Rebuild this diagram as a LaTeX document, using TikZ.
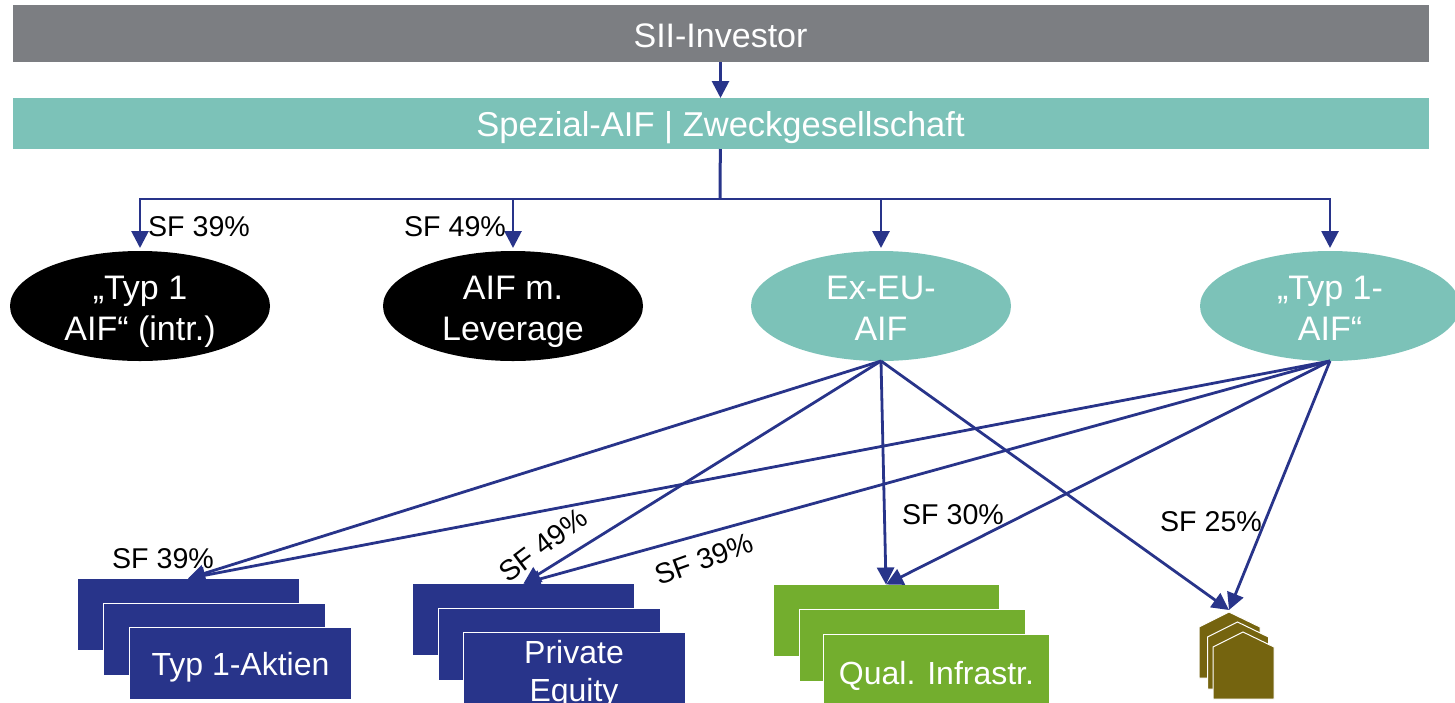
\documentclass[tikz,border=0pt]{standalone}
\usepackage{fontspec}
\setmainfont{Liberation Sans}
\usetikzlibrary{positioning, arrows.meta, shapes.geometric}
\definecolor{linkblue}{HTML}{28348A}
\definecolor{aifteal}{HTML}{7CC2B8}
\definecolor{barhgrey}{HTML}{7C7E82}
\definecolor{infragreen}{HTML}{73AE2E}
\definecolor{housebrown}{HTML}{75640F}
\tikzset{
  bar/.style={rectangle, minimum width=708pt, inner sep=0pt, outer sep=0pt, text=white,
    text depth=0pt, font=\fontsize{17}{20.5}\selectfont},
  aif/.style={ellipse, minimum width=130pt, minimum height=55pt, inner sep=0pt, outer sep=0pt},
  aiftext/.style={inner sep=0pt, yshift=-2.75pt, align=center, text=white, font=\fontsize{17}{20.5}\selectfont},
  card/.style={rectangle, draw=white, line width=.5pt, minimum width=111pt, minimum height=36pt,
    inner sep=0pt, outer sep=0pt},
  cardtext/.style={inner sep=0pt, align=center, text=white, font=\fontsize{16}{19}\selectfont},
  trunk/.style={draw=linkblue, line width=1.5pt},
  link/.style={draw=linkblue, line width=1.4pt, -{Triangle[length=8.5pt,width=8.5pt]}},
  sf/.style={inner sep=0pt, font=\fontsize{14.3}{17}\selectfont},
}
\begin{document}
\begin{tikzpicture}[x=.5pt, y=-.5pt]
      \clip (0,0) rectangle (1455,702);
      \node [bar, fill=barhgrey, minimum height=28.5pt, text height=13.7pt] (investor) at (720.5,33.5) {SII-Investor};
      \node [bar, fill=aifteal, minimum height=25.5pt, text height=12.7pt, below=18pt of investor,
        font=\fontsize{17.25}{20.5}\selectfont] (spezial) {Spezial-AIF | Zweckgesellschaft};
      \coordinate (bus) at (720,199);
      % ellipses
      \node [aif, fill=black] (typa) at (140,306) {};
      \node [aif, fill=black, right=56.5pt of typa] (lever) {};
      \node [aif, fill=aifteal, right=54pt of lever] (exeu) {};
      \node [aif, fill=aifteal, right=94.5pt of exeu] (typb) {};
      \node [aiftext] (typatext) at (typa) {\strut„Typ 1\\\strut AIF“ (intr.)};
      \node [aiftext] (levertext) at (lever) {\strut AIF m.\\\strut Leverage};
      \node [aiftext] (exeutext) at (exeu) {\strut Ex-EU-\\\strut AIF};
      \node [aiftext] (typbtext) at (typb) {\strut„Typ 1-\\\strut AIF“};
      % stacks
      \foreach \nm/\xx/\yy in {s3/188/614.5, s2/214/639, s1/240.5/663.5}
        \node [card, fill=linkblue] (\nm) at (\xx,\yy) {};
      \node [cardtext, text height=11.5pt, text depth=0pt] (stext) at (s1) {Typ 1-Aktien};
      \foreach \nm/\xx/\yy in {p3/523.5/619.5, p2/549.5/644.5, p1/574/668.5}
        \node [card, fill=linkblue] (\nm) at (\xx,\yy) {};
      \node [cardtext, yshift=-3pt] (ptext) at (p1) {Private\\Equity};
      \foreach \nm/\xx/\yy in {q3/886/620.5, q2/912/645, q1/936.5/670}
        \node [card, fill=infragreen, minimum width=113pt] (\nm) at (\xx,\yy) {};
      \node [cardtext, text height=14.5pt, text depth=0pt] (qtext) at (q1) {Qual. Infrastr.};
      % houses
      \coordinate (house) at (1229,610);
      \foreach \dx/\dy/\ht in {0/0/66, 8.5/10/67, 14/20/67}
        \fill [housebrown, draw=white, line width=.5pt, shift={(\dx,\dy)}]
          (1229,612) -- (1260,627) -- (1260,612+\ht) -- (1199,612+\ht) -- (1199,627) -- cycle;
      % links
      \draw [link] (investor) -- (spezial);
      \draw [trunk] (spezial) -- (bus);
      \foreach \to in {typa, lever, exeu, typb}
        \draw [link, shorten >=1.5pt] (bus) -| (\to.north);
      \foreach \from in {exeu, typb} {
        \draw [link] (\from.south) -- (s3.north);
        \draw [link] (\from.south) -- (p3.north);
        \draw [link] (\from.south) -- (q3.north);
        \draw [link] (\from.south) -- (house);
      }
      % labels
      \node [sf] (l1) at (199,227) {SF 39\%};
      \node [sf] (l2) at (455,227) {SF 49\%};
      \node [sf] (l3) at (163,559) {SF 39\%};
      \node [sf, rotate=37] (l4) at (543,545) {SF 49\%};
      \node [sf, rotate=20] (l5) at (704,559) {SF 39\%};
      \node [sf] (l6) at (953,515) {SF 30\%};
      \node [sf] (l7) at (1211,522) {SF 25\%};
\end{tikzpicture}
\end{document}
